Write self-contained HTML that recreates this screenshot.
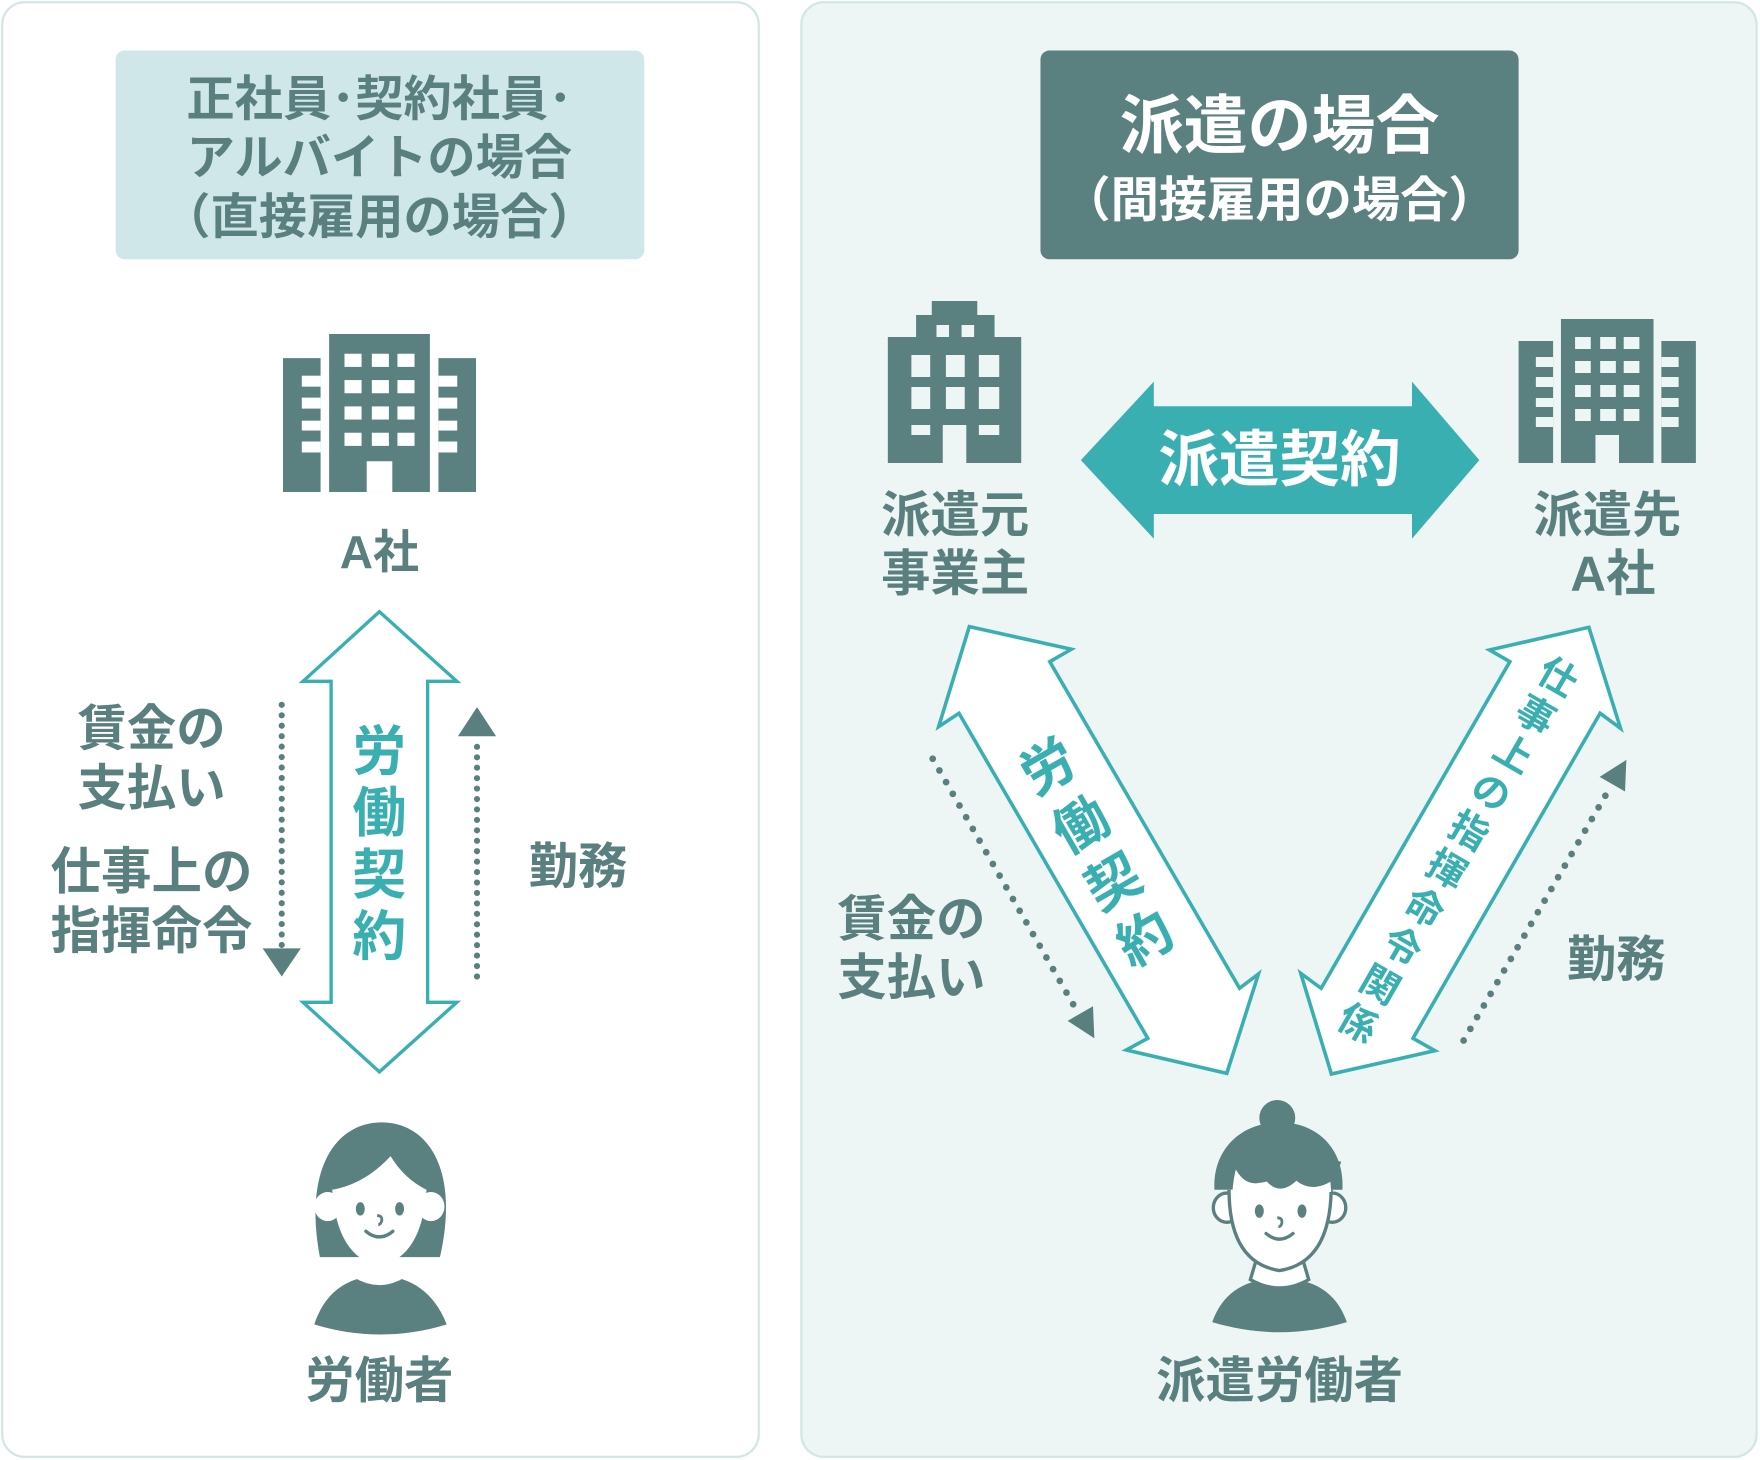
<!DOCTYPE html>
<html><head><meta charset="utf-8"><style>
html,body{margin:0;padding:0;background:#fff;}
svg{display:block}
text{font-family:"Liberation Sans","Noto Sans CJK JP",sans-serif;font-weight:bold;}
</style></head><body>
<svg width="1760" height="1460" viewBox="0 0 1760 1460" xmlns="http://www.w3.org/2000/svg">
<g transform="scale(1.1224)">
<rect x="2" y="2" width="674" height="1296" rx="20" fill="#fff" stroke="#d3e6e6" stroke-width="2"/>
<rect x="714" y="2" width="851" height="1296" rx="20" fill="#eef5f5" stroke="#d3e6e6" stroke-width="2"/>
<rect x="103" y="45" width="471" height="186" rx="8" fill="#d0e7e9"/>
<g fill="#5a7f7f" font-size="43" text-anchor="middle">
<text x="338" y="103">正社員･契約社員･</text>
<text x="338" y="155">アルバイトの場合</text>
<text x="338" y="208">（直接雇用の場合）</text>
</g>
<rect x="927" y="45" width="426" height="186" rx="8" fill="#5a8080"/>
<text x="1140" y="132" font-size="57" fill="#fff" text-anchor="middle">派遣の場合</text>
<text x="1140" y="193" font-size="43" fill="#fff" text-anchor="middle">（間接雇用の場合）</text>

<text x="338" y="506" font-size="41" fill="#5a7f7f" text-anchor="middle">A社</text>

<polygon points="338,545 407,607 381,607 381,893 407,893 338,955 270,893 295,893 295,607 270,607" fill="#fff" stroke="#3aafb2" stroke-width="3"/>
<g fill="#3aafb2" font-size="48" text-anchor="middle">
<text x="338" y="686">労</text><text x="338" y="741">働</text><text x="338" y="796">契</text><text x="338" y="851">約</text>
</g>
<line x1="251" y1="628" x2="251" y2="842" stroke="#5a7f7f" stroke-width="5.5" stroke-linecap="round" stroke-dasharray="0 9.3"/>
<polygon points="234,845 268,845 251,870" fill="#5a7f7f"/>
<line x1="425" y1="870" x2="425" y2="660" stroke="#5a7f7f" stroke-width="5.5" stroke-linecap="round" stroke-dasharray="0 9.3"/>
<polygon points="408,656 442,656 425,630" fill="#5a7f7f"/>
<g fill="#5a7f7f" font-size="44" text-anchor="middle">
<text x="135" y="664">賃金の</text><text x="135" y="717">支払い</text>
<text x="135" y="792" font-size="45">仕事上の</text><text x="135" y="845" font-size="45">指揮命令</text>
<text x="515" y="787">勤務</text>
<text x="338" y="1245">労働者</text>
<text x="851" y="474">派遣元</text><text x="851" y="526">事業主</text>
<text x="1432" y="474">派遣先</text><text x="1437" y="526">A社</text>
<text x="812" y="834">賃金の</text><text x="812" y="886">支払い</text>
<text x="1440" y="870">勤務</text>
<text x="1140" y="1245">派遣労働者</text>
</g>

<polygon points="963,410 1028,340 1028,362 1258,362 1258,340 1318,410 1258,480 1258,458 1028,458 1028,480" fill="#3aafb2"/>
<text x="1140" y="428" font-size="54" fill="#fff" text-anchor="middle">派遣契約</text>

<polygon points="863.6,558.3 954.5,578.5 935.3,589.5 1104.4,880.5 1121.2,867.8 1093,956.3 1003.5,935.5 1022.6,925.1 854.4,635.5 836.3,647.4" fill="#fff" stroke="#3aafb2" stroke-width="3.2"/>
<polygon points="1415.6,558.9 1443.8,648.9 1425.6,635.5 1258.9,925.1 1278.4,936.1 1186.2,956.9 1158.9,867.2 1177.1,880.5 1345.2,589.5 1327.1,579.1" fill="#fff" stroke="#3aafb2" stroke-width="3.2"/>
<g fill="#3aafb2" font-size="48" text-anchor="middle">
<g transform="translate(934,683) rotate(-30)"><text x="0" y="17">労</text></g>
<g transform="translate(963,735) rotate(-30)"><text x="0" y="17">働</text></g>
<g transform="translate(992,786) rotate(-30)"><text x="0" y="17">契</text></g>
<g transform="translate(1020,836) rotate(-30)"><text x="0" y="17">約</text></g>
</g>
<g fill="#3aafb2" font-size="34" text-anchor="middle" transform="translate(1388,603) rotate(30)">
<text x="0" y="12">仕</text><text x="0" y="51.6">事</text><text x="0" y="91.2">上</text><text x="0" y="130.8">の</text><text x="0" y="170.4">指</text><text x="0" y="210">揮</text><text x="0" y="249.6">命</text><text x="0" y="289.2">令</text><text x="0" y="328.8">関</text><text x="0" y="368.4">係</text>
</g>
<line x1="831" y1="676" x2="958" y2="898" stroke="#5a7f7f" stroke-width="6" stroke-linecap="round" stroke-dasharray="0 12"/>
<polygon points="975,925 973.8,896.5 951.2,909.5" fill="#5a7f7f"/>
<line x1="1304" y1="927" x2="1432" y2="706" stroke="#5a7f7f" stroke-width="6" stroke-linecap="round" stroke-dasharray="0 12"/>
<polygon points="1449,677 1447.8,705.2 1425.2,692.2" fill="#5a7f7f"/>

<g>
<path d="M285,1120 C270,1040 300,1000 340,1000 C380,1000 410,1040 392,1120 Z" fill="#5a8080"/>
<path d="M280,1180 C290,1150 310,1138 338,1136 C366,1138 386,1150 398,1180 C360,1192 318,1192 280,1180 Z" fill="#5a8080"/>
<rect x="322" y="1110" width="32" height="30" fill="#fff"/>
<path d="M315,1138 Q338,1152 361,1138 L354,1124 L322,1124 Z" fill="#fff"/>
<ellipse cx="292" cy="1075" rx="12" ry="13" fill="#fff"/>
<ellipse cx="384" cy="1075" rx="12" ry="13" fill="#fff"/>
<path d="M296,1060 Q300,1120 338,1128 Q376,1120 380,1060 Q360,1050 348,1030 Q325,1055 296,1060 Z" fill="#fff"/>
<ellipse cx="321" cy="1077" rx="4" ry="6" fill="#5a8080"/>
<ellipse cx="356" cy="1077" rx="4" ry="6" fill="#5a8080"/>
<path d="M336,1083 q5,0 4,5 q-1,3 -3,3" fill="none" stroke="#5a8080" stroke-width="2.5"/>
<path d="M326,1097 q12,10 24,0" fill="none" stroke="#5a8080" stroke-width="3" stroke-linecap="round"/>
</g>
<g>
<circle cx="1138" cy="996" r="16" fill="#5a8080"/>
<path d="M1082,1060 C1080,1025 1105,1000 1140,1000 C1175,1000 1198,1025 1196,1060 Z" fill="#5a8080"/>
<path d="M1080,1178 C1090,1150 1110,1140 1140,1138 C1170,1140 1190,1150 1200,1178 C1160,1190 1120,1190 1080,1178 Z" fill="#5a8080"/>
<path d="M1120,1120 L1114,1140 Q1140,1155 1166,1140 L1160,1120 Z" fill="#fff" stroke="#5a8080" stroke-width="3"/>
<ellipse cx="1093" cy="1076" rx="12" ry="13" fill="#fff" stroke="#5a8080" stroke-width="3"/>
<ellipse cx="1187" cy="1076" rx="12" ry="13" fill="#fff" stroke="#5a8080" stroke-width="3"/>
<path d="M1095,1060 Q1095,1125 1140,1132 Q1185,1125 1186,1060" fill="#fff" stroke="#5a8080" stroke-width="3"/>
<path d="M1098,1062 Q1100,1035 1108,1030 Q1112,1060 1130,1052 Q1140,1065 1155,1050 Q1170,1062 1185,1048 L1186,1062 Z" fill="#fff"/>
<path d="M1100,1040 Q1110,1060 1128,1052 Q1140,1066 1155,1052 Q1170,1064 1190,1050 L1195,1035 L1100,1025 Z" fill="#5a8080"/>
<ellipse cx="1122" cy="1079" rx="4" ry="6" fill="#5a8080"/>
<ellipse cx="1160" cy="1079" rx="4" ry="6" fill="#5a8080"/>
<path d="M1138,1085 q5,0 4,5 q-1,3 -3,3" fill="none" stroke="#5a8080" stroke-width="2.5"/>
<path d="M1128,1099 q12,10 24,0" fill="none" stroke="#5a8080" stroke-width="3" stroke-linecap="round"/>
</g>
</g>

<g transform="translate(880,0) scale(1.569,1) translate(-880,0)">
<g fill="#5a8080">
<rect x="885" y="337" width="85" height="126"/>
<rect x="903" y="315" width="50" height="23"/>
<rect x="913" y="301" width="29" height="15"/>
</g>
<g fill="#eef5f5">
<rect x="916" y="325" width="8" height="12"/><rect x="932" y="325" width="8" height="12"/>
<rect x="900" y="355" width="12" height="22"/><rect x="922" y="355" width="12" height="22"/><rect x="943" y="355" width="13" height="22"/>
<rect x="900" y="387" width="12" height="22"/><rect x="922" y="387" width="12" height="22"/><rect x="943" y="387" width="13" height="22"/>
<rect x="900" y="425" width="12" height="10"/><rect x="943" y="425" width="13" height="10"/>
<rect x="920" y="425" width="15" height="38"/>
</g>
</g>
<g transform="translate(880,0) scale(1.569,1) translate(-880,0)">
<g fill="#5a8080">
<rect x="1314" y="319" width="59" height="144"/>
<rect x="1287" y="341" width="22" height="122"/>
<rect x="1378" y="341" width="22" height="122"/>
</g>
<g fill="#eef5f5">
<rect x="1323" y="337" width="10" height="12"/><rect x="1339" y="337" width="10" height="12"/><rect x="1354" y="337" width="10" height="12"/>
<rect x="1323" y="361" width="10" height="12"/><rect x="1339" y="361" width="10" height="12"/><rect x="1354" y="361" width="10" height="12"/>
<rect x="1323" y="385" width="10" height="12"/><rect x="1339" y="385" width="10" height="12"/><rect x="1354" y="385" width="10" height="12"/>
<rect x="1323" y="409" width="10" height="12"/><rect x="1339" y="409" width="10" height="12"/><rect x="1354" y="409" width="10" height="12"/>
<rect x="1336" y="435" width="15" height="28"/>
<rect x="1298" y="357" width="11" height="10"/><rect x="1298" y="377" width="11" height="10"/><rect x="1298" y="398" width="11" height="9"/><rect x="1298" y="417" width="11" height="10"/>
<rect x="1378" y="357" width="11" height="10"/><rect x="1378" y="377" width="11" height="10"/><rect x="1378" y="398" width="11" height="9"/><rect x="1378" y="417" width="11" height="10"/>
</g>
</g>
<g transform="translate(283,334) scale(1.0886,1.097) scale(1.569,1) translate(-1287,-319)">
<g fill="#5a8080">
<rect x="1314" y="319" width="59" height="144"/>
<rect x="1287" y="341" width="22" height="122"/>
<rect x="1378" y="341" width="22" height="122"/>
</g>
<g fill="#fff">
<rect x="1323" y="337" width="10" height="12"/><rect x="1339" y="337" width="10" height="12"/><rect x="1354" y="337" width="10" height="12"/>
<rect x="1323" y="361" width="10" height="12"/><rect x="1339" y="361" width="10" height="12"/><rect x="1354" y="361" width="10" height="12"/>
<rect x="1323" y="385" width="10" height="12"/><rect x="1339" y="385" width="10" height="12"/><rect x="1354" y="385" width="10" height="12"/>
<rect x="1323" y="409" width="10" height="12"/><rect x="1339" y="409" width="10" height="12"/><rect x="1354" y="409" width="10" height="12"/>
<rect x="1336" y="435" width="15" height="28"/>
<rect x="1298" y="357" width="11" height="10"/><rect x="1298" y="377" width="11" height="10"/><rect x="1298" y="398" width="11" height="9"/><rect x="1298" y="417" width="11" height="10"/>
<rect x="1378" y="357" width="11" height="10"/><rect x="1378" y="377" width="11" height="10"/><rect x="1378" y="398" width="11" height="9"/><rect x="1378" y="417" width="11" height="10"/>
</g>
</g>
</svg>
</body></html>
